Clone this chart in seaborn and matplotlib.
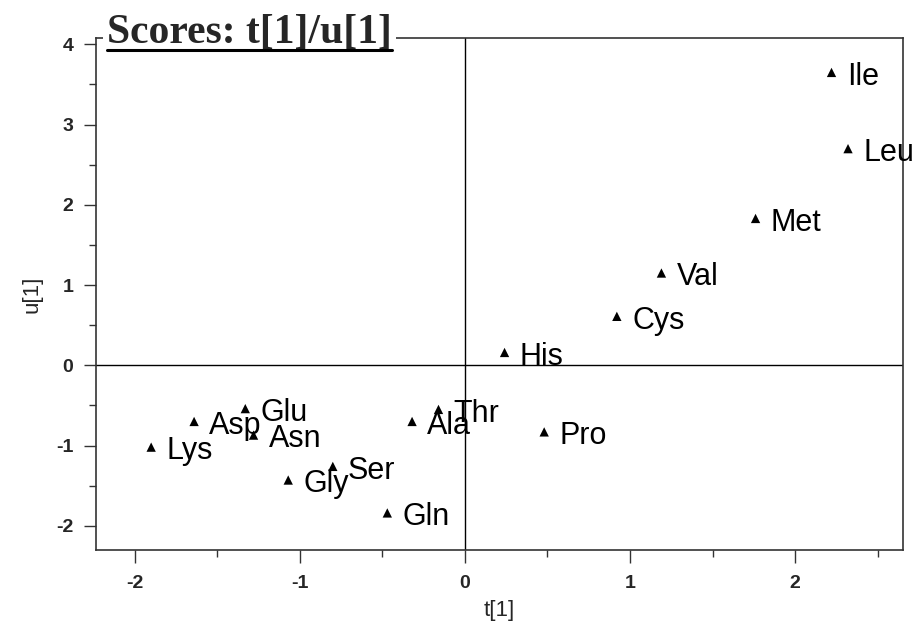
import numpy as np
import pandas as pd
import matplotlib
matplotlib.use("Agg")
import matplotlib.pyplot as plt
import seaborn as sns
from matplotlib.ticker import MultipleLocator
from matplotlib.lines import Line2D

# Scores
amino = ["Ile", "Leu", "Met", "Val", "Cys", "His", "Thr", "Ala", "Pro",
         "Glu", "Asp", "Asn", "Lys", "Gly", "Ser", "Gln"]
t1 = [2.22, 2.32, 1.76, 1.19, 0.92, 0.24, -0.16, -0.32, 0.48,
      -1.33, -1.64, -1.28, -1.90, -1.07, -0.80, -0.47]
u1 = [3.65, 2.70, 1.83, 1.15, 0.61, 0.16, -0.55, -0.70, -0.83,
      -0.54, -0.70, -0.87, -1.02, -1.43, -1.26, -1.84]

df = pd.DataFrame({"name": amino, "t": t1, "u": u1})

sns.set_style("ticks")
plt.rcParams["font.family"] = ["Liberation Sans", "DejaVu Sans"]
plt.rcParams["axes.unicode_minus"] = False

fig = plt.figure(figsize=(9.2, 6.32), dpi=100)
ax = fig.add_axes([0.104, 0.13, 0.877, 0.81])

ax.axhline(0, color="black", lw=1, zorder=1)
ax.axvline(0, color="black", lw=1, zorder=1)

sns.scatterplot(data=df, x="t", y="u", marker="^", color="black",
                s=45, edgecolor="none", ax=ax, zorder=3)

for _, row in df.iterrows():
    ax.annotate(row["name"], (row["t"], row["u"]), xytext=(11, -3),
                textcoords="offset points", ha="left", va="center",
                fontsize=22, color="black", annotation_clip=False)

ax.set_xlim(-2.236, 2.65)
ax.set_ylim(-2.3, 4.08)
ax.xaxis.set_major_locator(MultipleLocator(1))
ax.xaxis.set_minor_locator(MultipleLocator(0.5))
ax.yaxis.set_major_locator(MultipleLocator(1))
ax.yaxis.set_minor_locator(MultipleLocator(0.5))
ax.tick_params(which="major", direction="out", length=9, width=1,
               labelsize=14, pad=7, color="#333333")
ax.tick_params(which="minor", direction="out", length=5, width=1,
               color="#333333")
for lab in ax.get_xticklabels() + ax.get_yticklabels():
    lab.set_fontweight("bold")
ax.tick_params(axis="x", which="major", pad=9)

for sp in ax.spines.values():
    sp.set_linewidth(1.2)
    sp.set_color("#333333")

ax.set_xlabel("t[1]", fontsize=16, labelpad=6)
ax.set_ylabel("u[1]", fontsize=16, labelpad=10)

# boxed, underlined title sitting on the top spine
title = ax.text(0.014, 0.990, "Scores: t[1]/u[1]", transform=ax.transAxes,
                ha="left", va="baseline", fontsize=30, fontweight="bold",
                family="Liberation Serif", zorder=5,
                bbox=dict(facecolor="white", edgecolor="none", pad=3))
fig.canvas.draw()
bb = title.get_window_extent().transformed(fig.transFigure.inverted())
uy = bb.y0 + 0.003
fig.add_artist(Line2D([bb.x0, bb.x1], [uy, uy], color="black", lw=2.2,
                      transform=fig.transFigure))

fig.savefig("out.png", dpi=100, facecolor="white")
